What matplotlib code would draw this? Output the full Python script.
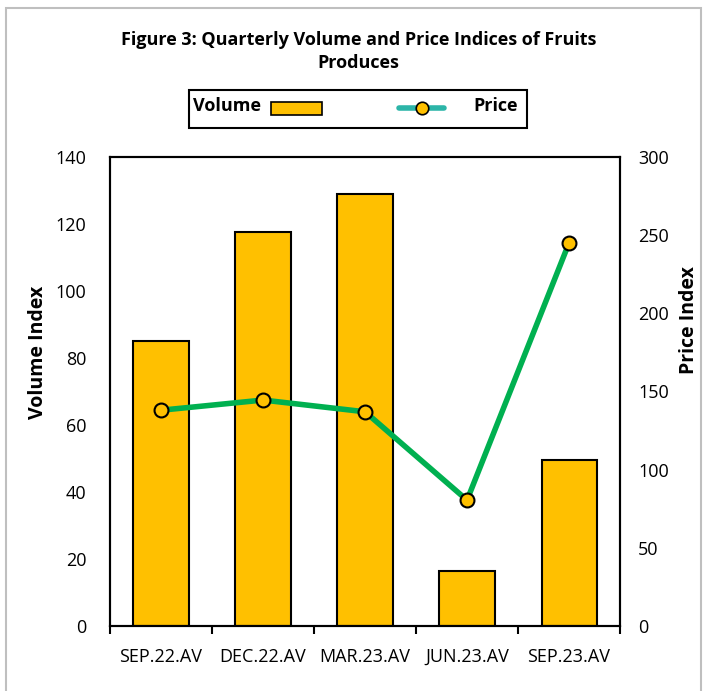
import matplotlib.pyplot as plt
from matplotlib.patches import Rectangle
from matplotlib.lines import Line2D

plt.rcParams['font.family'] = ['Open Sans', 'DejaVu Sans']

quarters = ["SEP.22.AV", "DEC.22.AV", "MAR.23.AV", "JUN.23.AV", "SEP.23.AV"]
volume = [85.1, 117.6, 129.0, 16.4, 49.6]
price = [138, 144.5, 137, 80.5, 245]

BAR = "#FFC000"
GREEN = "#00B050"

fig = plt.figure(figsize=(7.03, 6.91), dpi=100)
ax = fig.add_axes([0.1565, 0.094, 0.7255, 0.679])
ax2 = ax.twinx()

x = list(range(len(quarters)))
ax.bar(x, volume, width=0.54, color=BAR, edgecolor="black", linewidth=1.5, zorder=2)
ax2.plot(x, price, color=GREEN, linewidth=4, marker="o", markersize=10,
         markerfacecolor=BAR, markeredgecolor="black", markeredgewidth=1.5, zorder=3)

ax.set_xlim(-0.5, 4.5)
ax.set_ylim(0, 140)
ax2.set_ylim(0, 300)
ax.set_yticks(range(0, 141, 20))
ax2.set_yticks(range(0, 301, 50))
ax.set_xticks(x)
ax.set_xticklabels(quarters, fontsize=13)
ax.set_xticks([i - 0.5 for i in range(6)], minor=True)
ax.tick_params(axis="x", which="major", length=0, pad=16)
ax.tick_params(axis="x", which="minor", length=6, width=1.5, direction="out")
ax.tick_params(axis="y", length=0, labelsize=13, pad=17)
ax2.tick_params(axis="y", length=0, labelsize=13, pad=13)

for a in (ax, ax2):
    for s in a.spines.values():
        s.set_linewidth(1.5)

ax.set_ylabel("Volume Index", fontsize=14, fontweight="bold")
ax2.set_ylabel("Price Index", fontsize=14, fontweight="bold")
ax.yaxis.set_label_coords(-0.122, 0.584)
ax2.yaxis.set_label_coords(1.116, 0.652)

fig.text(0.51, 0.925, "Figure 3: Quarterly Volume and Price Indices of Fruits\nProduces",
         ha="center", va="center", fontsize=13, fontweight="bold", linespacing=1.35)

# legend drawn by hand: "Volume [box]" and "[line] Price"
fig.patches.append(Rectangle((0.269, 0.815), 0.481, 0.055, transform=fig.transFigure,
                             fill=False, edgecolor="black", linewidth=1.5))
fig.text(0.274, 0.846, "Volume", fontsize=13, fontweight="bold", va="center")
fig.patches.append(Rectangle((0.385, 0.834), 0.073, 0.018, transform=fig.transFigure,
                             facecolor=BAR, edgecolor="black", linewidth=1.2))
fig.lines.append(Line2D([0.567, 0.632], [0.843, 0.843], transform=fig.transFigure,
                        color="#2CB5A8", linewidth=4, solid_capstyle="round"))
fig.lines.append(Line2D([0.6], [0.843], transform=fig.transFigure, marker="o",
                        markersize=9, markerfacecolor=BAR, markeredgecolor="black",
                        markeredgewidth=1.2))
fig.text(0.674, 0.846, "Price", fontsize=13, fontweight="bold", va="center")

# outer chart frame
fig.patches.append(Rectangle((0.008, -0.01), 0.989, 0.998, transform=fig.transFigure,
                             fill=False, edgecolor="#BFBFBF", linewidth=1.5))

fig.savefig("out.png", dpi=100)
